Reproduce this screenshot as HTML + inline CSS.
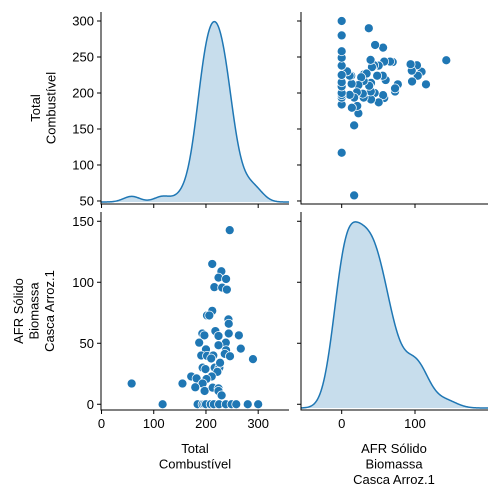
<!DOCTYPE html>
<html><head><meta charset="utf-8"><style>
body{margin:0;background:#fff;}
svg{display:block;font-family:"Liberation Sans","DejaVu Sans",sans-serif;}
</style></head><body>
<svg id="c" width="500" height="500" xmlns="http://www.w3.org/2000/svg"></svg>
<script>
const totalVals=[245.5,212,229.5,224,238.5,216,231,240,212,202,206.4,243,243.6,218,193,197,224,243.6,263,187,238,224,200,238.5,266.7,191,202,214,210,236,246,290,193.6,199,216.7,225.6,227,221.8,211,171.8,182,201,193.6,155,57.7,179.5,197.4,212.8,224,224,230,
 117,184,193.5,197,200,209,215,225,238,249,258,280,300];
const afrVals=[142.7,115,109,103.8,102.7,96,95.6,94,76.6,72.8,72.8,69.6,66,60,58,56.5,56,58,56.5,50.5,50.5,48.4,45,44.3,45.6,40,39.7,40,37.5,41.3,39.4,37,30,28.8,30,30,34,26.6,22.8,22.8,21.2,20.7,17,17,17,13.9,10.9,13.6,13,10.9,7.3,
 0,0,0,0,0,0,0,0,0,0,0,0,0];
const totalTicks=[0,100,200,300];
const totalYTicks=[50,100,150,200,250,300];
const afrTicks=[0,50,100,150];
const afrXTicks=[0,100];

const NS="http://www.w3.org/2000/svg";
const svg=document.getElementById('c');
function el(t,a,p){const e=document.createElementNS(NS,t);for(const k in a)e.setAttribute(k,a[k]);(p||svg).appendChild(e);return e;}
function lin(d0,d1,r0,r1){return v=>r0+(v-d0)*(r1-r0)/(d1-d0);}
const C='#1f77b4';
const P={L:{x0:101,x1:289},R:{x0:301,x1:488},T:{y0:12,y1:204},B:{y0:212,y1:410}};
const xTotal=(p)=>lin(-1,359,p.x0,p.x1);
const xAfr=(p)=>lin(-55.5,199.6,p.x0,p.x1);
const yTotal=lin(45.8,312.5,P.T.y1,P.T.y0);
const yAfr=lin(-4.7,157.6,P.B.y1,P.B.y0);

function kde(data,xs){
  const n=data.length,m=data.reduce((a,b)=>a+b)/n;
  const sd=Math.sqrt(data.reduce((a,b)=>a+(b-m)*(b-m),0)/(n-1));
  const bw=sd*Math.pow(n,-0.2);
  return xs.map(x=>data.reduce((s,d)=>s+Math.exp(-0.5*((x-d)/bw)**2),0));
}
function diag(name,data,lo,hi,xf,y0,y1){
  const xs=[];for(let i=0;i<=300;i++)xs.push(lo+(hi-lo)*i/300);
  const ds=kde(data,xs);const mx=Math.max(...ds);
  const base=y1-2,h=(y1-y0)*0.95;
  const pts=xs.map((x,i)=>[xf(x),base-ds[i]/mx*(h-2)]);
  const line=pts.map((p,i)=>(i?'L':'M')+p[0].toFixed(2)+','+p[1].toFixed(2)).join('');
  const f=el('path',{d:line+`L${pts[pts.length-1][0]},${base}L${pts[0][0]},${base}Z`,fill:C,'fill-opacity':0.25,stroke:'none'});
  
  
  const l=el('path',{d:line,fill:'none',stroke:C,'stroke-width':1.5});
  
  
}
function axes(p,q,name){
  const s=el('path',{d:`M${p.x0},${q.y0}L${p.x0},${q.y1}L${p.x1},${q.y1}`,fill:'none',stroke:'#000','stroke-width':1});
  
  
}
function xt(p,q,ticks,f,labels){
  ticks.forEach(t=>{const x=f(t);el('line',{x1:x,x2:x,y1:q.y1,y2:q.y1+4,stroke:'#000'});
    if(labels){const tx=el('text',{x:x,y:q.y1+18,'text-anchor':'middle','font-size':13});tx.textContent=t;
      
      }});
}
function yt(p,q,ticks,f,labels){
  ticks.forEach(t=>{const y=f(t);el('line',{x1:p.x0-4,x2:p.x0,y1:y,y2:y,stroke:'#000'});
    if(labels){const tx=el('text',{x:p.x0-7,y:y+4.5,'text-anchor':'end','font-size':13});tx.textContent=t;
      
      }});
}
// top-left diag
diag('total',totalVals,-1,359,xTotal(P.L),P.T.y0,P.T.y1);
axes(P.L,P.T,'top-left');xt(P.L,P.T,totalTicks,xTotal(P.L),false);yt(P.L,P.T,totalYTicks,yTotal,true);
// bottom-right diag
diag('afr',afrVals,-55.5,199.6,xAfr(P.R),P.B.y0,P.B.y1);
axes(P.R,P.B,'bottom-right');xt(P.R,P.B,afrXTicks,xAfr(P.R),true);yt(P.R,P.B,afrTicks,yAfr,false);
// top-right scatter
axes(P.R,P.T,'top-right');xt(P.R,P.T,afrXTicks,xAfr(P.R),false);yt(P.R,P.T,totalYTicks,yTotal,false);
const fr=xAfr(P.R);
afrVals.forEach((a,i)=>{const c=el('circle',{cx:fr(a),cy:yTotal(totalVals[i]),r:4.5,fill:C,stroke:'#fff','stroke-width':0.75});
  
  });
// bottom-left scatter
axes(P.L,P.B,'bottom-left');xt(P.L,P.B,totalTicks,xTotal(P.L),true);yt(P.L,P.B,afrTicks,yAfr,true);
const fl=xTotal(P.L);
totalVals.forEach((t,i)=>{const c=el('circle',{cx:fl(t),cy:yAfr(afrVals[i]),r:4.5,fill:C,stroke:'#fff','stroke-width':0.75});
  
  });
// axis labels
function label(lines,x,y,rot,name){
  const g=el('text',{'font-size':13,'text-anchor':'middle',transform:rot?`translate(${x},${y}) rotate(-90)`:`translate(${x},${y})`});
  
  
  lines.forEach((s,i)=>{const t=el('tspan',{x:0,dy:i?15.5:0},g);t.textContent=s;});
}
label(['Total','Combustível'],40,108,true,'y-axis-title-total');
label(['AFR Sólido','Biomassa','Casca Arroz.1'],23,311,true,'y-axis-title-afr');
label(['Total','Combustível'],195,453,false,'x-axis-title-total');
label(['AFR Sólido','Biomassa','Casca Arroz.1'],394,453,false,'x-axis-title-afr');
</script>
</body></html>
